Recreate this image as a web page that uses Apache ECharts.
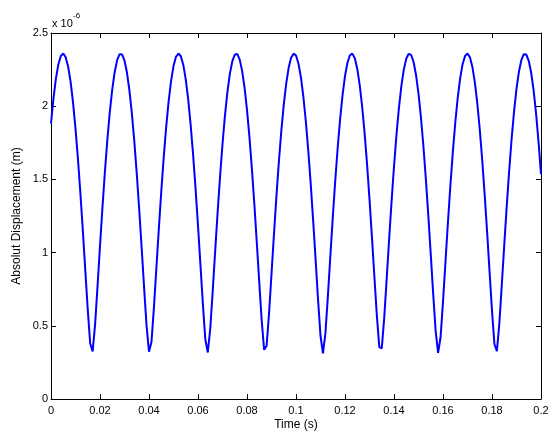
<!DOCTYPE html>
<html>
<head>
<meta charset="utf-8">
<title>Absolut Displacement</title>
<script src="https://cdn.jsdelivr.net/npm/echarts@6/dist/echarts.min.js"></script>
<style>
    html, body { margin: 0; padding: 0; background: #fff; }
    #chart { width: 550px; height: 431px; }
</style>
</head>
<body>
<div id="chart"></div>
<script>
    // axis ranges / ticks
    var xTicks = [0, 0.02, 0.04, 0.06, 0.08, 0.1, 0.12, 0.14, 0.16, 0.18, 0.2];
    var yTicks = [0, 0.5, 1, 1.5, 2, 2.5];
    var yScaleLabel = ['x 10', '-6'];

    // sampled every 1 ms, values in 1e-6 m
    var sampleStep = 0.001;
    var displacement = [
        1.882, 2.052, 2.188, 2.285, 2.343, 2.360, 2.335, 2.270, 2.166, 2.024,
        1.847, 1.639, 1.405, 1.148, 0.879, 0.610, 0.379, 0.325, 0.510, 0.773,
        1.045, 1.308, 1.551, 1.770, 1.959, 2.115, 2.234, 2.315, 2.355, 2.354,
        2.312, 2.230, 2.109, 1.952, 1.761, 1.541, 1.296, 1.033, 0.761, 0.501,
        0.323, 0.388, 0.622, 0.891, 1.160, 1.415, 1.649, 1.856, 2.031, 2.171,
        2.274, 2.337, 2.360, 2.341, 2.282, 2.183, 2.046, 1.873, 1.669, 1.438,
        1.184, 0.916, 0.646, 0.406, 0.318, 0.480, 0.736, 1.008, 1.273, 1.519,
        1.742, 1.936, 2.096, 2.221, 2.306, 2.352, 2.357, 2.320, 2.243, 2.127,
        1.975, 1.789, 1.572, 1.331, 1.069, 0.798, 0.535, 0.336, 0.364, 0.585,
        0.854, 1.124, 1.382, 1.619, 1.830, 2.009, 2.154, 2.262, 2.331, 2.359,
        2.346, 2.292, 2.198, 2.066, 1.899, 1.699, 1.471, 1.220, 0.953, 0.680,
        0.432, 0.312, 0.448, 0.699, 0.971, 1.238, 1.487, 1.713, 1.911, 2.076,
        2.206, 2.297, 2.348, 2.359, 2.328, 2.256, 2.146, 1.998, 1.816, 1.604,
        1.365, 1.106, 0.835, 0.569, 0.355, 0.346, 0.552, 0.817, 1.088, 1.348,
        1.588, 1.803, 1.987, 2.137, 2.250, 2.324, 2.358, 2.350, 2.302, 2.213,
        2.086, 1.923, 1.728, 1.503, 1.255, 0.990, 0.717, 0.464, 0.315, 0.420,
        0.664, 0.934, 1.202, 1.455, 1.685, 1.886, 2.056, 2.190, 2.287, 2.343,
        2.360, 2.334, 2.268, 2.163, 2.020, 1.842, 1.634, 1.398, 1.142, 0.872,
        0.603, 0.374, 0.327, 0.517, 0.780, 1.051, 1.314, 1.557, 1.775, 1.964,
        2.118, 2.237, 2.316, 2.355, 2.353, 2.310, 2.227, 2.106, 1.948, 1.756,
        1.535
    ];

    var FONT = 'Liberation Sans';

    var points = displacement.map(function (v, i) {
        return [+(i * sampleStep).toFixed(3), v];
    });

    var axisCommon = {
        type: 'value',
        axisLine: { show: true, onZero: false, lineStyle: { color: '#000', width: 1 } },
        axisTick: { show: true, inside: true, length: 5, lineStyle: { color: '#000', width: 1 } },
        splitLine: { show: false }
    };

    var xMain = echarts.util.merge({
        min: xTicks[0],
        max: xTicks[xTicks.length - 1],
        interval: xTicks[1] - xTicks[0],
        position: 'bottom',
        axisLabel: { color: '#000', fontSize: 11, fontFamily: FONT, margin: 6 },
        name: 'Time (s)',
        nameLocation: 'middle',
        nameGap: 20,
        nameMoveOverlap: false,
        nameTextStyle: { color: '#000', fontSize: 12, fontFamily: FONT }
    }, axisCommon);

    var xTop = echarts.util.merge({
        min: xTicks[0],
        max: xTicks[xTicks.length - 1],
        interval: xTicks[1] - xTicks[0],
        position: 'top',
        axisLabel: { show: false }
    }, axisCommon);

    var yMain = echarts.util.merge({
        min: yTicks[0],
        max: yTicks[yTicks.length - 1],
        interval: yTicks[1] - yTicks[0],
        position: 'left',
        axisLabel: { color: '#000', fontSize: 11, fontFamily: FONT, margin: 3 },
        name: 'Absolut Displacement (m)',
        nameLocation: 'middle',
        nameGap: 28,
        nameMoveOverlap: false,
        nameTextStyle: { color: '#000', fontSize: 12, fontFamily: FONT }
    }, axisCommon);

    var yRight = echarts.util.merge({
        min: yTicks[0],
        max: yTicks[yTicks.length - 1],
        interval: yTicks[1] - yTicks[0],
        position: 'right',
        axisLabel: { show: false }
    }, axisCommon);

    var myChart = echarts.init(document.getElementById('chart'), null, { renderer: 'canvas' });
    var option = {
        backgroundColor: '#fff',
        animation: false,
        grid: { left: 51, right: 9, top: 33, bottom: 32, containLabel: false, outerBoundsMode: 'none' },
        xAxis: [xMain, xTop],
        yAxis: [yMain, yRight],
        graphic: [
            {
                type: 'text', left: 52, top: 18,
                style: { text: yScaleLabel[0], fill: '#000', font: '11px "' + FONT + '"' }
            },
            {
                type: 'text', left: 73, top: 12,
                style: { text: yScaleLabel[1], fill: '#000', font: '8px "' + FONT + '"' }
            }
        ],
        series: [{
            type: 'line',
            data: points,
            showSymbol: false,
            symbol: 'none',
            lineStyle: { color: '#0000ff', width: 2 },
            clip: true
        }]
    };
    myChart.setOption(option);
</script>
</body>
</html>
